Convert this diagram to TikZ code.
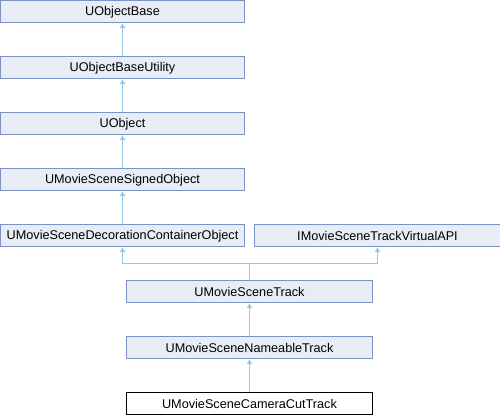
\documentclass[tikz,border=0pt]{standalone}
\usepackage{fontspec}
\setmainfont{Liberation Sans}
\usetikzlibrary{arrows.meta}

\begin{document}
\begin{tikzpicture}[x=0.75pt,y=0.75pt]
  \definecolor{cfill}{RGB}{232,236,245}
  \definecolor{cedge}{RGB}{124,146,196}
  \definecolor{clink}{RGB}{147,199,232}
  \tikzset{
    cls/.style={draw=cedge,fill=cfill,line width=0.75pt,minimum height=16.5pt,inner sep=0pt,font=\fontsize{9.5}{11}\selectfont},
    clsw/.style={cls,minimum width=183pt},
    clsx/.style={cls,minimum width=184pt},
    leaf/.style={cls,draw=black,fill=white},
    inh/.style={clink,line width=0.75pt,-{Triangle[length=3.5pt,width=4pt,fill=clink]}}
  }
  \useasboundingbox (0,0) rectangle (500,-416);
  \node[clsw] (base) at (122.5,-12) {UObjectBase};
  \node[clsw] (baseutil) at (122.5,-68) {UObjectBaseUtility};
  \node[clsw] (uobj) at (122.5,-124) {UObject};
  \node[clsw] (signed) at (122.5,-180) {UMovieSceneSignedObject};
  \node[clsw] (decor) at (122.5,-236) {UMovieSceneDecorationContainerObject};
  \node[clsx] (virtapi) at (377.5,-236) {IMovieSceneTrackVirtualAPI};
  \node[clsx] (track) at (249.5,-292) {UMovieSceneTrack};
  \node[clsx] (nameable) at (249.5,-348) {UMovieSceneNameableTrack};
  \node[clsx,leaf] (camcut) at (249.5,-404) {UMovieSceneCameraCutTrack};
  \draw[inh] (baseutil) -- (base);
  \draw[inh] (uobj) -- (baseutil);
  \draw[inh] (signed) -- (uobj);
  \draw[inh] (decor) -- (signed);
  \coordinate (fork) at (249.5,-264);
  \draw[inh] (track.north) -- (fork) -| (decor.south);
  \draw[inh] (fork) -| (virtapi.south);
  \draw[inh] (nameable) -- (track);
  \draw[inh] (camcut) -- (nameable);
\end{tikzpicture}
\end{document}
